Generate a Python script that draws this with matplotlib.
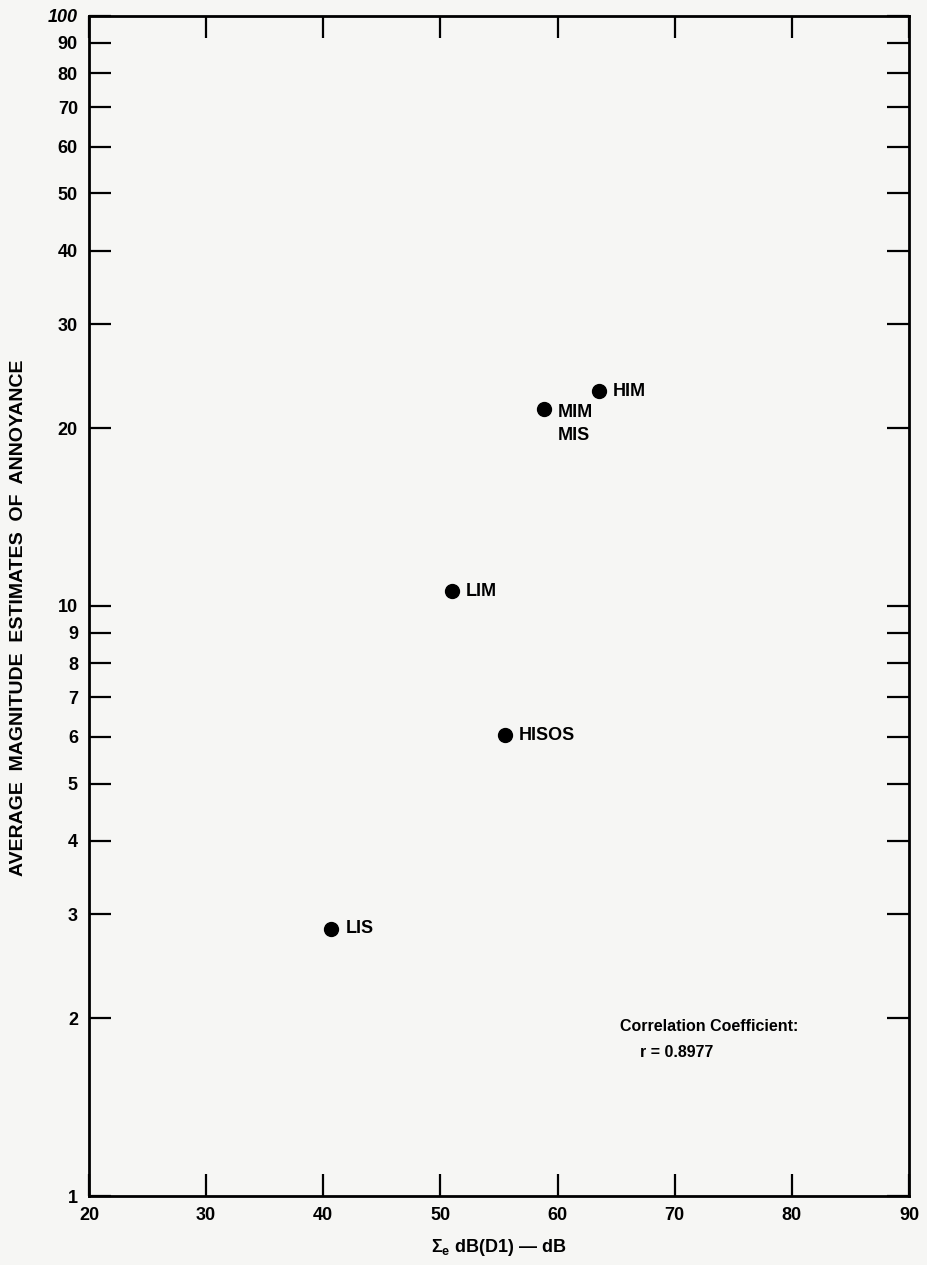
import matplotlib
matplotlib.use("Agg")
import matplotlib.pyplot as plt
from matplotlib.ticker import FixedLocator, NullFormatter

plt.rcParams['font.family'] = ['Liberation Sans', 'DejaVu Sans']
plt.rcParams['mathtext.fontset'] = 'custom'
plt.rcParams['mathtext.rm'] = 'Liberation Sans:bold'
plt.rcParams['mathtext.it'] = 'Liberation Sans:bold'
plt.rcParams['mathtext.bf'] = 'Liberation Sans:bold'

# summed exposure level vs. mean annoyance estimate
names = ["LIS", "LIM", "HISOS", "MIM\nMIS", "HIM"]
level_db = [40.7, 51.0, 55.5, 58.8, 63.5]
annoyance = [2.84, 10.6, 6.04, 21.6, 23.1]

x_ticks = [20, 30, 40, 50, 60, 70, 80, 90]
y_ticks = [1, 2, 3, 4, 5, 6, 7, 8, 9, 10, 20, 30, 40, 50, 60, 70, 80, 90, 100]
r_value = 0.8977

bg = "#f6f6f4"
fig = plt.figure(figsize=(9.27, 12.65), dpi=100, facecolor=bg)
ax = fig.add_axes([0.096, 0.0545, 0.8846, 0.933], facecolor=bg)

ax.plot(level_db, annoyance, "o", color="black", markersize=10, zorder=3)
for name, x, y in zip(names, level_db, annoyance):
    two_lines = "\n" in name
    ax.annotate(name, (x, y), xytext=(10, 3 if two_lines else 0),
                textcoords="offset points", ha="left",
                va="top" if two_lines else "center",
                fontsize=13, fontweight="bold", linespacing=1.45)

ax.set_yscale("log")
ax.set_xlim(20, 90)
ax.set_ylim(1, 100)

ax.xaxis.set_major_locator(FixedLocator(x_ticks))
ax.set_xticklabels([str(v) for v in x_ticks])
ax.yaxis.set_major_locator(FixedLocator(y_ticks))
ax.yaxis.set_minor_locator(FixedLocator([10]))
ax.yaxis.set_minor_formatter(NullFormatter())
ylabels = ax.set_yticklabels([str(v) for v in y_ticks])
ylabels[-1].set_style("italic")

ax.tick_params(axis="both", which="major", direction="in", length=16,
               width=1.6, labelsize=13, top=True, right=True, pad=8)
ax.tick_params(axis="y", which="minor", direction="in", length=24,
               width=1.6, left=True, right=True)
for lbl in ax.get_xticklabels() + ax.get_yticklabels():
    lbl.set_fontweight("bold")

for sp in ax.spines.values():
    sp.set_linewidth(2.0)

ax.set_ylabel("AVERAGE  MAGNITUDE  ESTIMATES  OF  ANNOYANCE", fontsize=14,
              fontweight="bold")
ax.yaxis.set_label_coords(-0.076, 0.49)
ax.set_xlabel(r"$\Sigma_e$ dB(D1) — dB", fontsize=13, fontweight="bold",
              labelpad=9)

ax.text(65.3, 1.94, "Correlation Coefficient:", fontsize=11.5,
        fontweight="bold", ha="left", va="center")
ax.text(67.0, 1.75, f"r = {r_value}", fontsize=11.5, fontweight="bold",
        ha="left", va="center")

fig.savefig("out.png", dpi=100, facecolor=bg)
